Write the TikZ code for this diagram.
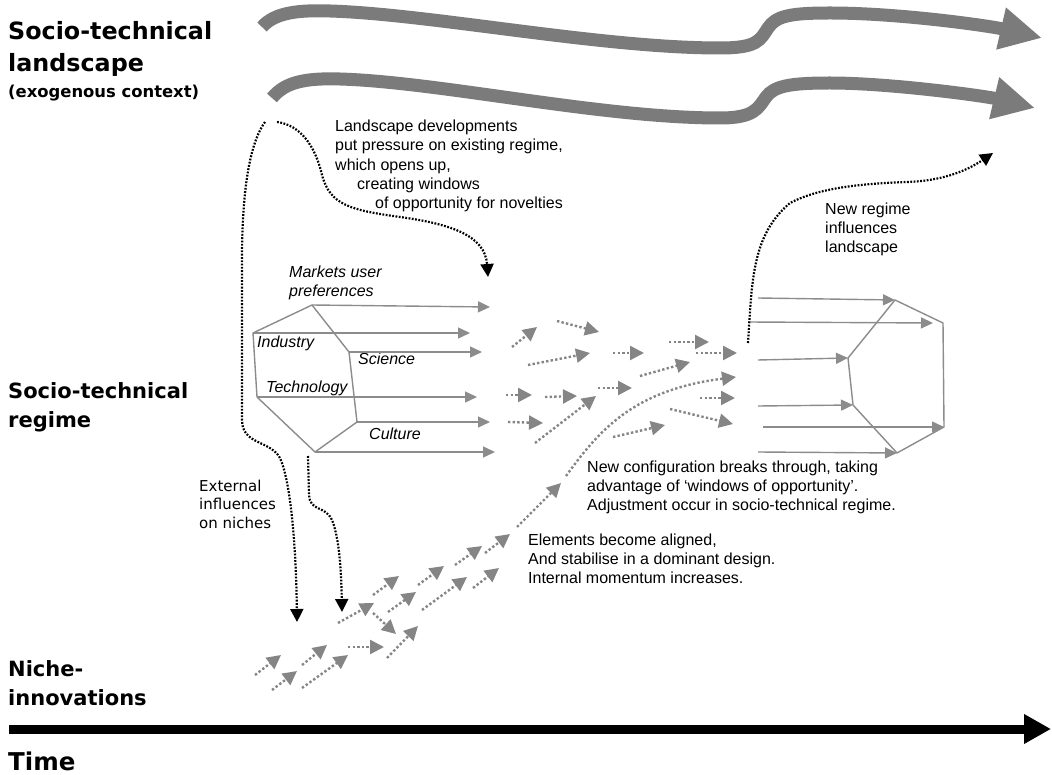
\documentclass[tikz,border=0pt]{standalone}
\usepackage{fontspec}
\setmainfont{Liberation Sans}
\newfontfamily\dvs{DejaVu Sans}
\usetikzlibrary{arrows.meta}
\definecolor{bandc}{HTML}{7B7B7B}
\definecolor{hexg}{HTML}{8C8C8C}
\definecolor{dotg}{HTML}{858585}
\begin{document}
\begin{tikzpicture}[x=1pt,y=-1pt,
  bandarrow/.style={draw=bandc, line width=13pt, -{Triangle[length=42pt,width=40pt]}},
  hexl/.style={draw=hexg, line width=1.4pt, line join=round},
  hexa/.style={draw=hexg, line width=1.4pt, -{Triangle[length=12pt,width=11pt]}},
  gdot/.style={draw=dotg, line width=2.4pt, dash pattern=on 2.4pt off 2.2pt, -{Triangle[length=14pt,width=14pt]}},
  bdot/.style={draw=black, line width=2.2pt, dash pattern=on 1.8pt off 1.5pt, -{Triangle[length=13pt,width=13pt]}},
  ann/.style={font=\fontsize{16}{19}\selectfont, anchor=base west, inner sep=0},
  itl/.style={font=\fontsize{16}{19}\selectfont\itshape, anchor=base west, inner sep=0},
  extl/.style={font=\dvs\fontsize{15}{18}\selectfont, anchor=base west, inner sep=0},
  biglab/.style={font=\dvs\bfseries\fontsize{23.8}{28}\selectfont, anchor=base west, inner sep=0},
  midlab/.style={font=\dvs\bfseries\fontsize{21}{25}\selectfont, anchor=base west, inner sep=0},
  smlab/.style={font=\dvs\bfseries\fontsize{16.4}{20}\selectfont, anchor=base west, inner sep=0}
]
\useasboundingbox (0,0) rectangle (1052,775);

% ---------- left labels ----------
\node[biglab] (L1) at (8,40) {Socio-technical};
\node[biglab] (L2) at (8,72) {landscape};
\node[smlab] (L3) at (8,98) {(exogenous context)};
\node[midlab] (R1) at (8,399) {Socio-technical};
\node[midlab] (R2) at (8,428) {regime};
\node[midlab] (N1) at (8,676) {Niche-};
\node[midlab] (N2) at (8,705) {innovations};
\node[font=\dvs\bfseries\fontsize{24.5}{28}\selectfont, anchor=base west, inner sep=0] (T) at (8,770) {Time};

% ---------- landscape arrows ----------
\draw[bandarrow] (262,27) .. controls (275,12) and (300,10) .. (330,11)
   .. controls (430,14) and (600,48) .. (720,48)
   .. controls (758,48) and (760,40) .. (768,28)
   .. controls (776,16) and (790,13) .. (830,13)
   .. controls (900,13) and (990,26) .. (1042,38);
\draw[bandarrow] (272,98) .. controls (285,82) and (305,78) .. (340,79)
   .. controls (440,82) and (600,118) .. (720,118)
   .. controls (755,118) and (758,108) .. (766,97)
   .. controls (774,86) and (790,83) .. (830,83)
   .. controls (890,83) and (985,96) .. (1035,108);

% ---------- time arrow ----------
\coordinate (tL) at (9,729);
\coordinate (tR) at (1051,729);
\draw[line width=9pt, -{Triangle[length=27pt,width=28pt]}] (tL) -- (tR);

% ---------- annotation texts ----------
\node[ann] (a1) at (335,132) {Landscape developments};
\node[ann] (a2) at (335,151) {put pressure on existing regime,};
\node[ann] (a3) at (335,171) {which opens up,};
\node[ann] (a4) at (357,190) {creating windows};
\node[ann] (a5) at (375,209) {of opportunity for novelties};

\node[ann] (b1) at (825,215) {New regime};
\node[ann] (b2) at (825,234) {influences};
\node[ann] (b3) at (825,253) {landscape};

\node[itl] (m1) at (289,278) {Markets user};
\node[itl] (m2) at (289,297) {preferences};
\node[itl] (ind) at (257,348) {Industry};
\node[itl] (sci) at (358,365) {Science};
\node[itl] (tec) at (266,392) {Technology};
\node[itl] (cul) at (369,439) {Culture};

\node[extl] (e1) at (199,491) {External};
\node[extl] (e2) at (199,509) {influences};
\node[extl] (e3) at (199,528) {on niches};

\node[ann] (c1) at (587,472) {New configuration breaks through, taking};
\node[ann] (c2) at (587,491) {advantage of ‘windows of opportunity’.};
\node[ann] (c3) at (587,510) {Adjustment occur in socio-technical regime.};

\node[ann] (d1) at (528,545) {Elements become aligned,};
\node[ann] (d2) at (528,564) {And stabilise in a dominant design.};
\node[ann] (d3) at (528,583) {Internal momentum increases.};

% ---------- left regime hexagon ----------
\coordinate (hA) at (312,305);
\coordinate (hB) at (349,352);
\coordinate (hC) at (357,422);
\coordinate (hD) at (315,452);
\coordinate (hE) at (257,397);
\coordinate (hF) at (253,333);
\draw[hexl] (hA) -- (hB) -- (hC) -- (hD) -- (hE) -- (hF) -- cycle;
\coordinate (oA) at (490,307);
\coordinate (oF) at (470,333);
\coordinate (oB) at (482,352);
\coordinate (oE) at (477,397);
\coordinate (oC) at (490,422);
\coordinate (oD) at (495,452);
\draw[hexa] (hA) -- (oA);
\draw[hexa] (hF) -- (oF);
\draw[hexa] (hB) -- (oB);
\draw[hexa] (hE) -- (oE);
\draw[hexa] (hC) -- (oC);
\draw[hexa] (hD) -- (oD);

% ---------- right regime hexagon ----------
\coordinate (kP) at (895,300);
\coordinate (kQ) at (943,323);
\coordinate (kR) at (944,427);
\coordinate (kS) at (897,453);
\coordinate (kT) at (853,405);
\coordinate (kU) at (848,358);
\draw[hexl] (kP) -- (kQ) -- (kR) -- (kS) -- (kT) -- (kU) -- cycle;
\coordinate (iP) at (758,298);
\coordinate (iQ) at (748,322);
\coordinate (iU) at (758,360);
\coordinate (iT) at (758,406);
\coordinate (iR) at (763,427);
\coordinate (iS) at (758,452);
\draw[hexa] (iP) -- (kP);
\draw[hexa] (iQ) -- ([xshift=-10pt]kQ);
\draw[hexa] (iU) -- (kU);
\draw[hexa] (iT) -- (kT);
\draw[hexa] (iR) -- (kR);
\draw[hexa] (iS) -- (kS);

% ---------- grey dotted arrows (regime) ----------
\foreach \sx/\sy/\ex/\ey in {
  512/347/537/327, 557/321/599/332, 528/365/590/353, 613/353/644/353,
  669/342/709/342, 696/353/737/353, 506/395/532/395, 545/397/577/396,
  598/388/632/388, 640/376/690/362, 535/443/596/396, 508/422/543/423,
  613/437/665/425, 670/409/733/424, 700/398/735/398}
  \draw[gdot] (\sx,\sy) -- (\ex,\ey);

% ---------- grey dotted arrows (niches) ----------
\foreach \sx/\sy/\ex/\ey in {
  255/675/281/655, 272/690/297/671, 302/665/327/645, 302/688/348/655,
  348/647/384/647, 387/658/418/626, 338/623/374/603, 373/613/396/634,
  373/595/399/576, 388/612/416/592, 418/585/444/566, 422/610/467/577,
  455/565/482/546, 473/588/499/568, 485/553/510/534, 517/527/561/483}
  \draw[gdot] (\sx,\sy) -- (\ex,\ey);

% long curved dotted arrow
\coordinate (k0) at (566,476);
\coordinate (k1) at (736,377);
\draw[gdot] (k0) .. controls (598,432) and (632,390) .. (k1);

% ---------- black dotted arrows ----------
\coordinate (s1) at (265,122);
\coordinate (t1) at (297,622);
\draw[bdot] (s1) .. controls (252,140) and (242,180) .. (242,260) -- (242,420)
   .. controls (242,445) and (270,440) .. (280,458)
   .. controls (290,480) and (296,540) .. (t1);
\coordinate (s2) at (277,122);
\coordinate (t2) at (488,277);
\draw[bdot] (s2) .. controls (300,125) and (315,145) .. (322,175)
   .. controls (330,205) and (350,210) .. (400,217)
   .. controls (450,224) and (485,235) .. (t2);
\coordinate (s3) at (308,456);
\coordinate (t3) at (342,612);
\draw[bdot] (s3) -- (309,495) .. controls (310,512) and (325,505) .. (332,520)
   .. controls (338,535) and (341,560) .. (t3);
\coordinate (s4) at (748,343);
\coordinate (t4) at (993,153);
\draw[bdot] (s4) .. controls (752,280) and (752,235) .. (790,203)
   .. controls (815,190) and (850,184) .. (907,182)
   .. controls (940,181) and (965,172) .. (t4);
\end{tikzpicture}
\end{document}
